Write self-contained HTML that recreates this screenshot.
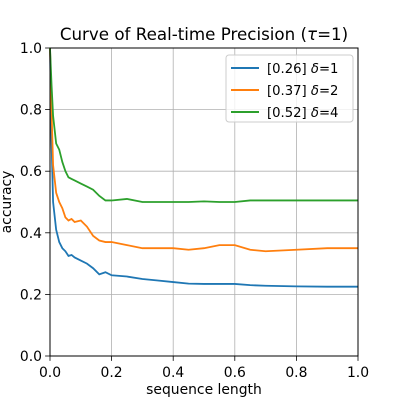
<!DOCTYPE html>
<html><head><meta charset="utf-8"><style>body{margin:0;background:#fff}svg{font-family:"DejaVu Sans","Liberation Sans",sans-serif}</style></head>
<body>
<svg id="chart" width="400" height="400" xmlns="http://www.w3.org/2000/svg"></svg>
<script>
const xs=[0,0.005,0.01,0.02,0.03,0.04,0.05,0.06,0.07,0.08,0.1,0.12,0.14,0.16,0.18,0.2,0.25,0.3,0.35,0.4,0.45,0.5,0.55,0.6,0.65,0.7,0.8,0.9,1.0];
const blue=[1.0,0.7,0.5,0.41,0.37,0.35,0.34,0.325,0.328,0.32,0.31,0.30,0.285,0.265,0.272,0.262,0.258,0.25,0.245,0.24,0.235,0.234,0.234,0.234,0.23,0.228,0.226,0.225,0.225];
const orange=[1.0,0.8,0.62,0.53,0.50,0.48,0.45,0.44,0.445,0.435,0.44,0.42,0.39,0.375,0.37,0.37,0.36,0.35,0.35,0.35,0.345,0.35,0.36,0.36,0.345,0.34,0.345,0.35,0.35];
const green=[1.0,0.88,0.78,0.69,0.67,0.63,0.60,0.58,0.575,0.57,0.56,0.55,0.54,0.52,0.505,0.505,0.51,0.50,0.5,0.5,0.5,0.502,0.5,0.5,0.505,0.505,0.505,0.505,0.505];
const ticks=[0,0.2,0.4,0.6,0.8,1.0];
const tickLabels=["0.0","0.2","0.4","0.6","0.8","1.0"];
const legendLabels=["[0.26] ","[0.37] ","[0.52] "];
const legendDeltas=["1","2","4"];
const L=50,R=358,T=48,B=356;
const sx=v=>L+v*(R-L), sy=v=>B-v*(B-T);
const svg=document.getElementById('chart');const NS='http://www.w3.org/2000/svg';
function mk(tag,attrs,parent){const e=document.createElementNS(NS,tag);for(const k in attrs)e.setAttribute(k,attrs[k]);(parent||svg).appendChild(e);return e;}
ticks.forEach((t,i)=>{
 let g=mk('line',{x1:sx(t),x2:sx(t),y1:T,y2:B,stroke:'#b0b0b0','stroke-width':0.8});
 
 g=mk('line',{x1:L,x2:R,y1:sy(t),y2:sy(t),stroke:'#b0b0b0','stroke-width':0.8});
 
 let k=mk('line',{x1:sx(t),x2:sx(t),y1:B,y2:B+4.9,stroke:'#000','stroke-width':0.8});
 
 k=mk('line',{x1:L-4.9,x2:L,y1:sy(t),y2:sy(t),stroke:'#000','stroke-width':0.8});
 
 let tx=mk('text',{x:sx(t),y:B+21,'text-anchor':'middle','font-size':13.9});tx.textContent=tickLabels[i];
 
 tx=mk('text',{x:L-8,y:sy(t)+5,'text-anchor':'end','font-size':13.9});tx.textContent=tickLabels[i];
 
});
const series=[[blue,'#1f77b4'],[orange,'#ff7f0e'],[green,'#2ca02c']];
series.forEach(([d,c],i)=>{
 const p=mk('polyline',{points:xs.map((x,j)=>sx(x)+','+sy(d[j])).join(' '),fill:'none',stroke:c,'stroke-width':1.8});
 
});
const fr=mk('rect',{x:L,y:T,width:R-L,height:B-T,fill:'none',stroke:'#000','stroke-width':1});

const lg=mk('rect',{x:226,y:55,width:127,height:67,fill:'#fff','fill-opacity':0.8,stroke:'#ccc',rx:3});

series.forEach(([d,c],i)=>{
 const y=68+i*22;
 const l=mk('line',{x1:231,x2:259,y1:y,y2:y,stroke:c,'stroke-width':2});
 
 const t=mk('text',{x:267,y:y+5,'font-size':13.2});
 
 t.appendChild(document.createTextNode(legendLabels[i]));
 const it=mk('tspan',{'font-style':'italic'},t);it.textContent='δ';
 t.appendChild(document.createTextNode('='+legendDeltas[i]));
});
let t=mk('text',{x:204,y:40,'text-anchor':'middle','font-size':16.7});
t.appendChild(document.createTextNode('Curve of Real-time Precision ('));
const ti=mk('tspan',{'font-style':'italic'},t);ti.textContent='τ';
t.appendChild(document.createTextNode('=1)'));

t=mk('text',{x:204,y:394,'text-anchor':'middle','font-size':13.9});t.textContent='sequence length';

t=mk('text',{x:11,y:202,'text-anchor':'middle','font-size':13.9,transform:'rotate(-90 11 202)'});t.textContent='accuracy';

</script>
</body></html>
